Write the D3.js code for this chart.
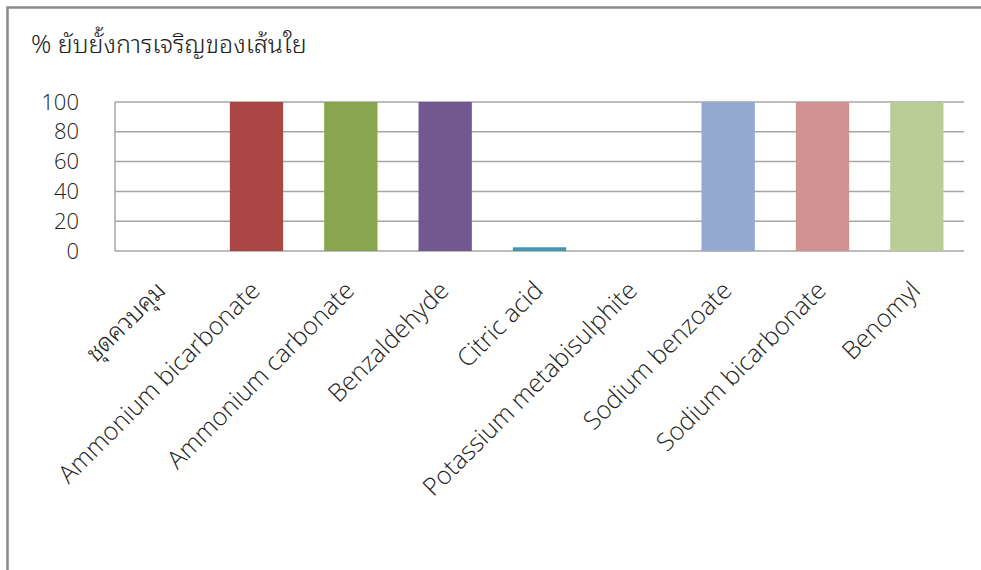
<!DOCTYPE html>
<html><head><meta charset="utf-8">
<script src="https://cdn.jsdelivr.net/npm/d3@7"></script>
<style>
html,body{margin:0;padding:0;background:#fff;}
svg{display:block;}
text{font-family:"Open Sans","Noto Sans","DejaVu Sans",sans-serif;fill:#222;}
.thai{font-family:"Noto Sans Thai Looped","Noto Sans Thai","Noto Sans Thai UI","Loma","Garuda","Waree","Kinnari","Norasi",sans-serif;font-weight:300;}
</style></head>
<body>
<script>
const title = "% ยับยั้งการเจริญของเส้นใย";
const categories = ["ชุดควบคุม","Ammonium bicarbonate","Ammonium carbonate","Benzaldehyde","Citric acid","Potassium metabisulphite","Sodium benzoate","Sodium bicarbonate","Benomyl"];
const values = [0,100,100,100,2.5,0,100,100,100];
const colors = ["#4572A7","#AA4643","#89A54E","#71588F","#4198AF","#DB843D","#93A9CF","#D19392","#B9CD96"];
const yTicks = [0,20,40,60,80,100];

const W = 981, H = 570;
const svg = d3.select("body").append("svg").attr("width",W).attr("height",H);

// outer frame
svg.append("rect").attr("x",7.5).attr("y",7.5).attr("width",W+20).attr("height",H+20)
  .attr("fill","none").attr("stroke","#8a8a8a").attr("stroke-width",2.5);

const m = {left:115, right:964, top:102, bottom:251};
const x = d3.scaleBand().domain(categories).range([m.left,m.right]).paddingInner(0.435).paddingOuter(0.2175);
const y = d3.scaleLinear().domain([0,100]).range([m.bottom,m.top]);

const FONT = '"Open Sans","Noto Sans",sans-serif';
const isThai = s => /[\u0E00-\u0E7F]/.test(s);

// title
svg.append("text").attr("class","thai").attr("x",31).attr("y",53).attr("font-size",25).text(title);

// gridlines
svg.append("g").selectAll("line").data(yTicks).join("line")
  .attr("x1",m.left).attr("x2",m.right)
  .attr("y1",d=>y(d)).attr("y2",d=>y(d))
  .attr("stroke","#a6a6a6").attr("stroke-width",1.5);
// left axis line
svg.append("line").attr("x1",m.left).attr("x2",m.left).attr("y1",m.top).attr("y2",m.bottom)
  .attr("stroke","#a6a6a6").attr("stroke-width",1.5);

// y axis labels via d3 axis
const yAxis = svg.append("g").attr("transform",`translate(${m.left},0)`)
  .call(d3.axisLeft(y).tickValues(yTicks).tickSize(0).tickPadding(36));
yAxis.select(".domain").remove();
yAxis.selectAll("text").attr("font-size",22).style("font-family",FONT).style("font-weight","300").attr("fill","#222");

// bars
svg.append("g").selectAll("rect").data(values).join("rect")
  .attr("x",(d,i)=>x(categories[i]))
  .attr("width",x.bandwidth())
  .attr("y",d=>y(d))
  .attr("height",d=>y(0)-y(d))
  .attr("fill",(d,i)=>colors[i]);

// x axis labels
const xAxis = svg.append("g").attr("transform",`translate(0,${m.bottom})`)
  .call(d3.axisBottom(x).tickSize(0).tickFormat(d=>d));
xAxis.select(".domain").remove();
xAxis.selectAll("text")
  .attr("class",d=>isThai(d)?"thai":null)
  .attr("font-size",d=>isThai(d)?24.5:25)
  .attr("font-family",null)
  .attr("fill","#222")
  .attr("text-anchor","end")
  .attr("dy",0)
  .attr("y",0)
  .attr("transform","translate(5,41) rotate(-45)")
  .filter(d=>!isThai(d))
  .style("font-family",FONT)
  .style("font-weight","300");
</script>
</body></html>
